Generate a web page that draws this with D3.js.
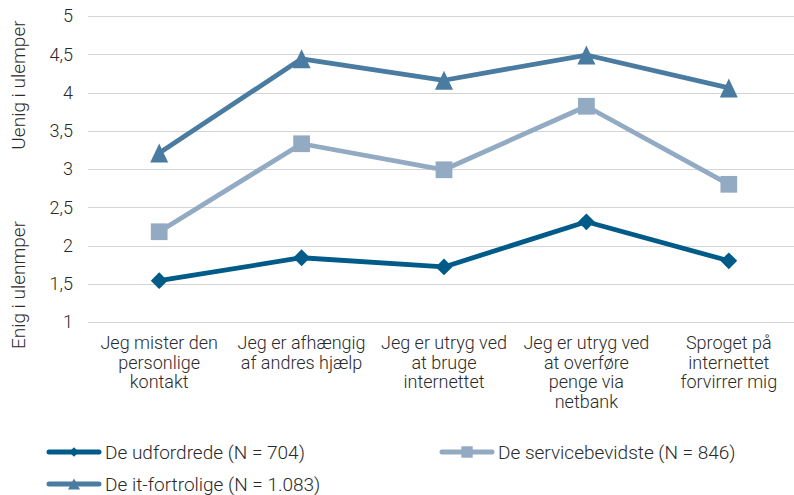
<!DOCTYPE html>
<html>
<head>
<meta charset="utf-8">
<script src="https://cdn.jsdelivr.net/npm/d3@7"></script>
<style>
  body { margin: 0; background: #fff; }
  svg text { font-family: "Roboto", "Noto Sans", sans-serif; font-weight: 300; fill: #2a2a2a; }
</style>
</head>
<body>
<div id="chart"></div>
<script>
// categories and series
const categories = [
  ["Jeg mister den", "personlige", "kontakt"],
  ["Jeg er afhængig", "af andres hjælp"],
  ["Jeg er utryg ved", "at bruge", "internettet"],
  ["Jeg er utryg ved", "at overføre", "penge via", "netbank"],
  ["Sproget på", "internettet", "forvirrer mig"]
]
const udfordrede = [1.54, 1.84, 1.72, 2.31, 1.80]
const servicebevidste = [2.18, 3.33, 2.99, 3.82, 2.80]
const itFortrolige = [3.21, 4.44, 4.16, 4.49, 4.06]
const yTicks = [1, 1.5, 2, 2.5, 3, 3.5, 4, 4.5, 5]

const series = [
  {name: "De udfordrede (N = 704)", values: udfordrede, color: "#005b88", symbol: "diamond"},
  {name: "De servicebevidste (N = 846)", values: servicebevidste, color: "#93aac3", symbol: "square"},
  {name: "De it-fortrolige (N = 1.083)", values: itFortrolige, color: "#4a7ba1", symbol: "triangle"}
]

const w = 794, h = 495
const padLeft = 88, padRight = 800, padTop = 16, padBottom = 322

const svg = d3.select("#chart").append("svg")
  .attr("width", w).attr("height", h)

const xScale = d3.scaleBand()
  .domain(d3.range(categories.length))
  .range([padLeft, padRight])
const yScale = d3.scaleLinear()
  .domain([1, 5])
  .range([padBottom, padTop])

// gridlines
svg.append("g")
  .selectAll("line")
  .data(yTicks)
  .enter()
  .append("line")
    .attr("x1", padLeft).attr("x2", w)
    .attr("y1", d => Math.round(yScale(d)) + 0.5)
    .attr("y2", d => Math.round(yScale(d)) + 0.5)
    .attr("stroke", "#d4d4d4")
    .attr("stroke-width", 1.2)

// y axis labels
const yAxis = d3.axisLeft(yScale)
  .tickValues(yTicks)
  .tickSize(0)
  .tickPadding(0)
  .tickFormat(d => String(d).replace(".", ","))
const yg = svg.append("g")
  .attr("transform", "translate(73,0)")
  .call(yAxis)
yg.select(".domain").remove()
yg.selectAll("text")
  .attr("font-size", 18)
  .attr("fill", "#2a2a2a")
  .style("font-family", "Roboto, sans-serif")
  .style("font-weight", 300)

// category labels
const xg = svg.append("g")
xg.selectAll("text")
  .data(categories)
  .enter()
  .append("text")
    .attr("text-anchor", "middle")
    .attr("x", (d, i) => xScale(i) + xScale.bandwidth() / 2)
    .attr("y", 349)
    .attr("font-size", 18)
    .each(function(lines) {
      const t = d3.select(this)
      lines.forEach((l, j) => {
        t.append("tspan")
          .attr("x", t.attr("x"))
          .attr("dy", j === 0 ? 0 : 19.5)
          .text(l)
      })
    })

// side labels
svg.append("text")
  .attr("text-anchor", "middle")
  .attr("transform", "translate(25,85) rotate(-90)")
  .attr("font-size", 19)
  .text("Uenig i ulemper")
svg.append("text")
  .attr("text-anchor", "middle")
  .attr("transform", "translate(25,285) rotate(-90)")
  .attr("font-size", 19)
  .text("Enig i ulenmper")

// lines and markers
const cx = i => xScale(i) + xScale.bandwidth() / 2
const line = d3.line()
  .x((d, i) => cx(i))
  .y(d => yScale(d))

// triangle as in the picture: a bit taller than wide, centred on the point
function triangleType(wd, ht) {
  return {
    draw(context) {
      context.moveTo(0, -ht / 2)
      context.lineTo(wd / 2, ht / 2)
      context.lineTo(-wd / 2, ht / 2)
      context.closePath()
    }
  }
}

const symbols = {
  diamond: d3.symbol().type(d3.symbolDiamond2).size(180),
  square: d3.symbol().type(d3.symbolSquare).size(280),
  triangle: d3.symbol().type(triangleType(18, 19))
}

series.forEach(s => {
  svg.append("path")
    .datum(s.values)
    .attr("d", line)
    .attr("fill", "none")
    .attr("stroke", s.color)
    .attr("stroke-width", 4.8)
    .attr("stroke-linejoin", "round")

  svg.append("g")
    .selectAll("path")
    .data(s.values)
    .enter()
    .append("path")
      .attr("d", symbols[s.symbol])
      .attr("transform", (d, i) => "translate(" + cx(i) + "," + yScale(d) + ")")
      .attr("fill", s.color)
})

// legend
const legendPos = [[47, 452], [440, 452], [47, 484]]
const legendSymbols = {
  diamond: d3.symbol().type(d3.symbolDiamond2).size(60),
  square: d3.symbol().type(d3.symbolSquare).size(130),
  triangle: d3.symbol().type(triangleType(12, 11))
}
series.forEach((s, i) => {
  const g = svg.append("g")
    .attr("transform", "translate(" + legendPos[i][0] + "," + legendPos[i][1] + ")")
  g.append("line")
    .attr("x1", 2).attr("x2", 52)
    .attr("stroke", s.color)
    .attr("stroke-width", 5)
    .attr("stroke-linecap", "round")
  g.append("path")
    .attr("d", legendSymbols[s.symbol])
    .attr("transform", "translate(27,0)")
    .attr("fill", s.color)
  g.append("text")
    .attr("x", 58)
    .attr("y", 7)
    .attr("font-size", 19)
    .text(s.name)
})
</script>
</body>
</html>
